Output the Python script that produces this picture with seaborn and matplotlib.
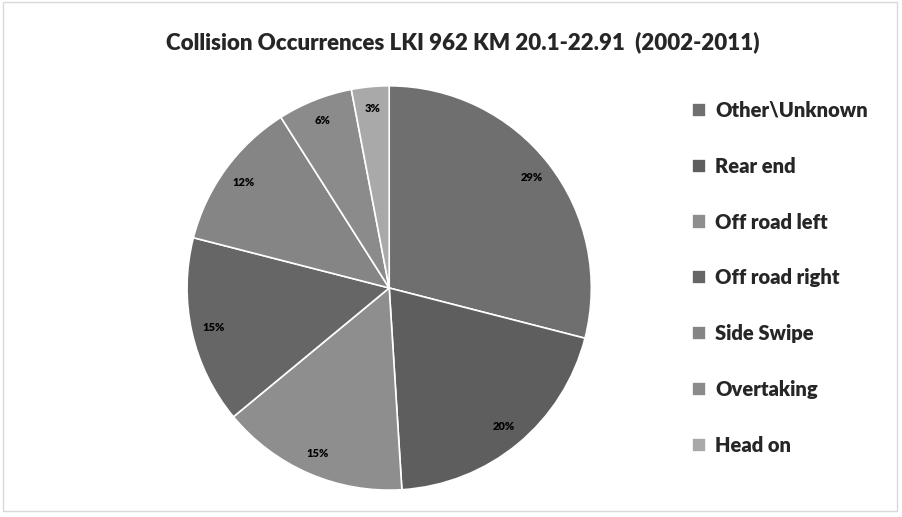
import matplotlib
matplotlib.use("Agg")
import matplotlib.pyplot as plt
import seaborn as sns
from matplotlib.patches import Rectangle

categories = ["Other\\Unknown", "Rear end", "Off road left", "Off road right",
              "Side Swipe", "Overtaking", "Head on"]
shares = [29, 20, 15, 15, 12, 6, 3]
colours = ["#6f6f6f", "#5e5e5e", "#8e8e8e", "#666666", "#858585", "#8b8b8b", "#a9a9a9"]

sns.set_theme(style="white")
plt.rcParams["font.family"] = ["Lato", "DejaVu Sans"]

fig = plt.figure(figsize=(9.03, 5.17), dpi=100)
ax = fig.add_axes([0.207, 0.052, 0.448, 0.782])

wedges, texts, autotexts = ax.pie(
    shares,
    colors=colours,
    startangle=90,
    counterclock=False,
    autopct="%d%%",
    pctdistance=0.89,
    wedgeprops={"edgecolor": "white", "linewidth": 1.2},
    textprops={"fontsize": 8, "fontweight": "heavy", "color": "black"},
)
ax.set_aspect("equal")
ax.set_xlim(-1.0, 1.0)
ax.set_ylim(-1.0, 1.0)

fig.suptitle("Collision Occurrences LKI 962 KM 20.1-22.91  (2002-2011)",
             x=0.512, y=0.94, fontsize=16, fontweight="heavy")

leg = fig.legend(wedges, categories, loc="upper left", bbox_to_anchor=(0.746, 0.84),
                 frameon=False, fontsize=14.5,
                 handlelength=0.7, handleheight=0.7, handletextpad=0.45,
                 labelspacing=1.83)
for t in leg.get_texts():
    t.set_fontweight("heavy")

fig.patches.append(Rectangle((0.003, 0.012), 0.99, 0.985, transform=fig.transFigure,
                             fill=False, edgecolor="#d9d9d9", linewidth=1))

fig.savefig("out.png", dpi=100)
